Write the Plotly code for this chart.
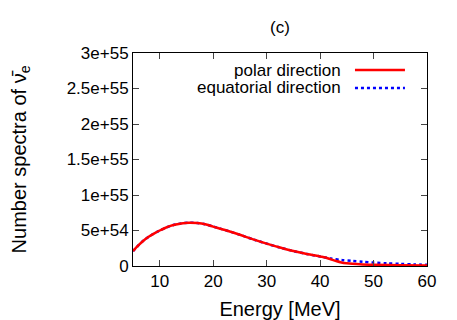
import plotly.graph_objects as go

# energy grid [MeV] and number spectra (units of 1e54)
energy_polar = [5, 6, 7, 8, 9, 10, 11, 12, 13, 14, 15.5, 17, 18.5, 20, 22.5, 25, 27.5,
                30, 32.5, 35, 37.5, 40, 41, 42, 43, 44, 45, 46, 48, 50, 55, 60]
spec_polar = [2.1, 2.9, 3.6, 4.15, 4.6, 5.0, 5.35, 5.65, 5.85, 6.0, 6.1, 6.05, 5.88,
              5.55, 5.0, 4.4, 3.75, 3.15, 2.6, 2.1, 1.7, 1.35, 1.2, 0.95, 0.7, 0.5, 0.38,
              0.3, 0.22, 0.18, 0.1, 0.06]

energy_eq = [5, 6, 7, 8, 9, 10, 11, 12, 13, 14, 15.5, 17, 18.5, 20, 22.5, 25, 27.5,
             30, 32.5, 35, 37.5, 40, 42, 44, 46, 48, 50, 52.5, 55, 57.5, 60]
spec_eq = [2.1, 2.9, 3.6, 4.15, 4.6, 5.0, 5.35, 5.65, 5.85, 6.0, 6.1, 6.05, 5.88,
           5.55, 5.0, 4.4, 3.75, 3.15, 2.6, 2.1, 1.7, 1.35, 1.05, 0.85, 0.72, 0.6, 0.48,
           0.38, 0.3, 0.22, 0.17]

y_ticks = [0, 5e54, 1e55, 1.5e55, 2e55, 2.5e55, 3e55]
y_ticktext = ["0", "5e+54", "1e+55", "1.5e+55", "2e+55", "2.5e+55", "3e+55"]
x_ticks = [10, 20, 30, 40, 50, 60]

font = dict(family="Liberation Sans, Arial, sans-serif", size=17, color="black")

fig = go.Figure()
fig.add_trace(go.Scatter(x=energy_eq, y=[v * 1e54 for v in spec_eq], mode="lines",
                         line=dict(color="blue", width=2.5, dash="dot", shape="spline",
                                   smoothing=0.8),
                         name="equatorial direction"))
fig.add_trace(go.Scatter(x=energy_polar, y=[v * 1e54 for v in spec_polar], mode="lines",
                         line=dict(color="red", width=2.5, shape="spline", smoothing=0.8),
                         name="polar direction"))

# gnuplot-style legend: text on the left, sample line on the right
legend_rows = [("polar direction", "red", "solid", 0.92),
               ("equatorial direction", "blue", "dot", 0.836)]
for label, colour, dash, ypos in legend_rows:
    fig.add_annotation(x=0.714, y=ypos, xref="paper", yref="paper", text=label,
                       showarrow=False, xanchor="right", yanchor="middle", font=font)
    fig.add_shape(type="line", xref="paper", yref="paper", x0=0.755, x1=0.925,
                  y0=ypos, y1=ypos, line=dict(color=colour, width=2.5, dash=dash))

# page body has an 8px margin, so the figure is 8px smaller than the window
fig.update_layout(
    width=449, height=312,
    margin=dict(l=125, r=30, t=45, b=54),
    paper_bgcolor="white", plot_bgcolor="white",
    font=font, showlegend=False,
    title=dict(text="(c)", x=(125 + 294 / 2) / 449, xanchor="center",
               y=1 - 19 / 312, yanchor="middle", font=font),
)
fig.update_xaxes(range=[5, 60], tickvals=x_ticks, ticks="inside", ticklen=6,
                 mirror="ticks", showline=True, linecolor="black", linewidth=1,
                 showgrid=False, zeroline=False, automargin=False,
                 title=dict(text="Energy [MeV]", standoff=18))
fig.update_yaxes(range=[0, 3e55], tickvals=y_ticks, ticktext=y_ticktext,
                 ticks="inside", ticklen=6, mirror="ticks", showline=True,
                 linecolor="black", linewidth=1, showgrid=False, zeroline=False,
                 automargin=False,
                 title=dict(text="Number spectra of ν̄<sub>e</sub>", standoff=36))

fig.write_html("out.html")
